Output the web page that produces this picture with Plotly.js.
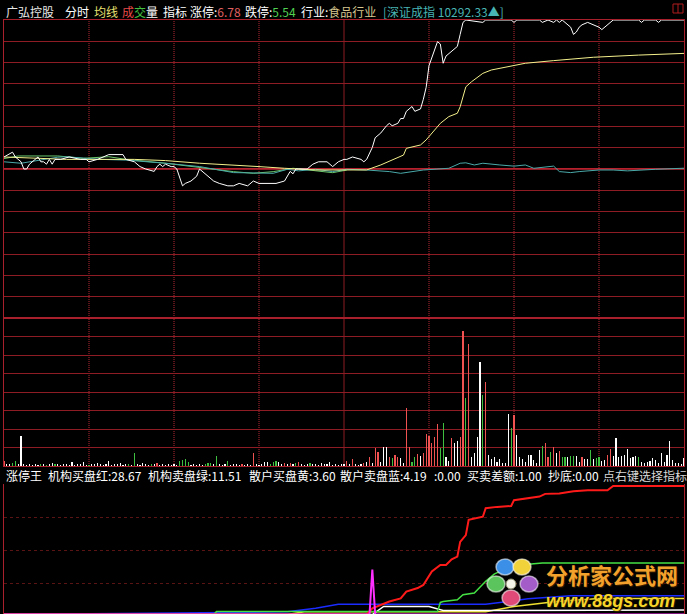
<!DOCTYPE html>
<html>
<head>
<meta charset="utf-8">
<script src="https://cdn.plot.ly/plotly-3.0.1.min.js"></script>
<style>
  html, body { margin: 0; padding: 0; background: #000; }
  #chart { width: 687px; height: 614px; }
</style>
</head>
<body>
<div id="chart"></div>
<script>
// 广弘控股 分时图：minute 0 = 09:30, 120 = 11:30/13:00, 240 = 15:00
const preClose = 6.16;
const limitUp = 6.78;
const limitDown = 5.54;

// 分时价格 (white)
const priceTime = [0,3,4,6,7,8,9,10,12,13,14,15,16,17,18,20,23,27,29,30,33,37,42,43,46,48,50,53,54,55,56,57,59,60,61,63,64,66,68,69,70,72,74,76,79,81,83,86,88,90,93,96,99,101,102,103,104,107,109,111,114,116,118,120,121,123,126,127,128,130,131,133,135,136,137,139,140,141,142,143,144,145,147,148,149,150,152,153,154,155,156,159,160,161,162,163,169,170,179,180,181,189,190,192,194,195,196,197,198,200,201,202,203,204,206,208,210,211,212,213,215,224,225,226,230,231,232,240];
const priceValue = [6.21,6.23,6.21,6.19,6.16,6.16,6.18,6.19,6.21,6.19,6.19,6.18,6.20,6.18,6.20,6.20,6.21,6.20,6.20,6.19,6.20,6.22,6.22,6.20,6.19,6.17,6.16,6.15,6.17,6.18,6.17,6.18,6.17,6.17,6.16,6.09,6.10,6.11,6.13,6.16,6.15,6.13,6.11,6.10,6.09,6.09,6.10,6.09,6.11,6.10,6.10,6.10,6.11,6.15,6.14,6.16,6.16,6.16,6.18,6.19,6.19,6.17,6.19,6.20,6.20,6.21,6.20,6.19,6.20,6.25,6.29,6.31,6.34,6.35,6.34,6.35,6.37,6.37,6.40,6.41,6.42,6.40,6.41,6.45,6.50,6.59,6.66,6.69,6.68,6.60,6.63,6.66,6.67,6.72,6.77,6.78,6.77,6.78,6.78,6.77,6.78,6.78,6.77,6.78,6.77,6.78,6.77,6.78,6.77,6.75,6.72,6.73,6.75,6.76,6.77,6.76,6.75,6.74,6.75,6.76,6.78,6.78,6.77,6.78,6.78,6.77,6.78,6.78];

// 均价 (yellow)
const avgTime = [0,10,22,46,57,69,81,90,99,110,121,128,133,137,141,142,147,149,152,154,157,160,161,163,165,169,172,175,180,184,194,208,224,240];
const avgValue = [6.210,6.205,6.200,6.200,6.195,6.184,6.177,6.170,6.163,6.156,6.156,6.156,6.177,6.197,6.218,6.246,6.260,6.281,6.322,6.350,6.378,6.392,6.419,6.502,6.523,6.558,6.572,6.579,6.593,6.600,6.611,6.625,6.634,6.641];

// 叠加 深证成指 (points)
const indexPreClose = 10287;
const indexTime = [0,6,19,22,34,43,57,69,81,88,95,100,104,110,116,121,128,136,140,148,157,161,163,166,169,175,180,184,187,194,196,200,203,210,215,220,224,230,240];
const indexValue = [10337,10327,10369,10372,10354,10349,10327,10304,10262,10262,10257,10285,10274,10285,10269,10285,10280,10269,10257,10280,10292,10327,10330,10315,10327,10315,10307,10315,10292,10307,10269,10262,10269,10280,10280,10274,10280,10285,10292.33];

// 叠加 食品行业 (% change)
const sectorTime = [0,5,19,28,37,43,57,69,81,88,95,102,110,116,121];
const sectorPct = [0.70,0.88,0.88,0.72,0.83,0.65,0.39,0.11,-0.18,-0.29,-0.18,0.05,-0.10,-0.25,-0.07];

// 成交量 (手), one bar per minute
const volume = [
  270,110,100,160,270,110,1620,110,60,110,      // 0-9
  60,110,60,110,100,60,110,160,110,100,         // 10-19
  60,110,100,60,210,60,110,100,210,60,          // 20-29
  60,110,100,160,110,60,110,260,60,110,         // 30-39
  100,160,60,110,110,60,700,110,60,160,         // 40-49
  110,60,110,100,160,60,110,60,110,60,          // 50-59
  110,60,270,320,380,210,60,110,60,110,         // 60-69
  60,110,160,160,110,540,110,60,110,260,        // 70-79
  60,110,100,60,110,60,110,60,700,110,          // 80-89
  60,110,220,210,110,210,260,210,110,160,       // 90-99
  110,160,110,160,210,110,60,110,160,110,       // 100-109
  100,60,160,110,100,210,60,110,60,110,         // 110-119
  100,260,110,380,110,60,110,160,210,490,       // 120-129
  160,970,760,210,1030,1020,490,430,590,490,    // 130-139
  430,160,3130,1010,230,490,650,540,700,1730,   // 140-149
  1620,1240,1570,2270,970,2320,490,270,1510,1240, // 150-159
  1350,1580,7290,3670,6590,490,700,1570,5620,3830, // 160-169
  4540,590,380,490,220,380,160,170,2810,2050,   // 170-179
  2750,1670,490,370,210,590,600,320,160,860,    // 180-189
  1080,1260,490,770,1010,700,830,490,480,490,   // 190-199
  540,550,540,220,490,380,370,880,380,430,      // 200-209
  490,270,320,590,930,540,1530,490,540,590,     // 210-219
  920,430,490,540,490,230,160,220,270,430,      // 220-229
  320,160,700,210,590,1330,320,160,170,110,     // 230-239
  420                                           // 240
];
// r = 上涨, g = 下跌, w = 平
const volumeSide = (
  "rwwggwwwww" + "wwwgwgwwgw" + "wwwwwwwwww" + "gwwwwwwwww" +
  "wwwwgwgwww" + "wwgwrwwwww" + "wwggggwwww" + "wgggwgwwwg" +
  "wwwwrwwwrw" + "wwwwgggwwr" + "wrwgrwwwgw" + "wwwwwwwwww" +
  "wrwrwwwrwr" + "wrrwwwrgrr" + "wwrrggrwrr" + "rrrrggwwrw" +
  "wrrgrwwwwg" + "rwwwwwwwwg" + "rwwwwwwwww" + "grrgrwrggw" +
  "ggwwrwwgwg" + "gwwrrwwwww" + "wwwwgwwwww" + "wwwwwwwwww" + "w"
).split("");

// 涨停王 指标
const instBuyTime = [0,128,130,133,136,140,142,146,148,151,154,156,158,160,161,163,164,169,170,174,179,180,184,189,191,196,201,206,213,215,240];
const instBuyValue = [0,0,1.4,2.1,2.9,3.6,5.1,5.9,6.6,9.6,11.05,11.05,12.3,12.9,16.2,17.7,21.1,21.8,23.7,24.0,24.2,25.5,25.9,26.3,26.9,27.0,27.5,27.7,27.7,28.67,28.67];
const instSellTime = [0,74,75,153,154,155,160,162,166,168,170,173,178,185,190,240];
const instSellValue = [0,0,0.65,0.65,2.7,2.9,3.3,4.4,4.8,6.2,7.4,9.0,10.5,11.2,11.51,11.51];
const retailBuyTime = [0,100,106,170,180,195,210,240];
const retailBuyValue = [0,0,0.6,0.6,1.8,2.9,3.6,3.6];
const retailSellTime = [0,45,61,100,110,118,170,185,200,240];
const retailSellValue = [0,0.35,0.35,0.6,1.4,2.3,2.3,3.5,4.19,4.19];
const spreadTime = [0,130,134,150,155,240];
const spreadValue = [0,0,1.8,1.8,0.9,1.0];
const bottomTime = [0,129,130,131,240];
const bottomValue = [0,0,10,0,0];

// ---------- drawing ----------
const W = 687, H = 614, ML = 4, MR = 3, MT = 20, MB = 0;
const px = x => (x - ML) / (W - ML - MR);
const py = y => (H - MB - y) / (H - MT - MB);

const GRID = '#8e1c24';
const FRAME = '#a8202c';
const FONT = '"Noto Sans CJK SC", "Noto Sans", sans-serif';

const volColorMap = { r: '#f05252', g: '#3fbf3f', w: '#ffffff' };
const minutes = volume.map((_, i) => i);

const traces = [
  // price panel
  { x: sectorTime, y: sectorPct.map(p => preClose * (1 + p / 100)), type: 'scatter', mode: 'lines',
    line: { color: '#6cc86c', width: 1 }, xaxis: 'x', yaxis: 'y', hoverinfo: 'skip' },
  { x: indexTime, y: indexValue.map(v => preClose * v / indexPreClose), type: 'scatter', mode: 'lines',
    line: { color: '#4aa8a8', width: 1 }, xaxis: 'x', yaxis: 'y', hoverinfo: 'skip' },
  { x: avgTime, y: avgValue, type: 'scatter', mode: 'lines',
    line: { color: '#f4f08c', width: 1 }, xaxis: 'x', yaxis: 'y', hoverinfo: 'skip' },
  { x: priceTime, y: priceValue, type: 'scatter', mode: 'lines',
    line: { color: '#ffffff', width: 1 }, xaxis: 'x', yaxis: 'y', hoverinfo: 'skip' },
  // volume panel
  { x: minutes, y: volume, type: 'bar', width: 0.38,
    marker: { color: volumeSide.map(s => volColorMap[s]), line: { width: 0 } },
    xaxis: 'x2', yaxis: 'y2', hoverinfo: 'skip' },
  // indicator panel
  { x: retailSellTime, y: retailSellValue, type: 'scatter', mode: 'lines',
    line: { color: '#1a2cff', width: 1.5 }, xaxis: 'x3', yaxis: 'y3', hoverinfo: 'skip' },
  { x: retailBuyTime, y: retailBuyValue, type: 'scatter', mode: 'lines',
    line: { color: '#f0e030', width: 1.5 }, xaxis: 'x3', yaxis: 'y3', hoverinfo: 'skip' },
  { x: spreadTime, y: spreadValue, type: 'scatter', mode: 'lines',
    line: { color: '#ffffff', width: 1.5 }, xaxis: 'x3', yaxis: 'y3', hoverinfo: 'skip' },
  { x: instSellTime, y: instSellValue, type: 'scatter', mode: 'lines',
    line: { color: '#44e044', width: 1.5 }, xaxis: 'x3', yaxis: 'y3', hoverinfo: 'skip' },
  { x: instBuyTime, y: instBuyValue, type: 'scatter', mode: 'lines',
    line: { color: '#ff1a1a', width: 2 }, xaxis: 'x3', yaxis: 'y3', hoverinfo: 'skip' },
  { x: bottomTime, y: bottomValue, type: 'scatter', mode: 'lines',
    line: { color: '#ff30ff', width: 2 }, xaxis: 'x3', yaxis: 'y3', hoverinfo: 'skip' }
];

const baseX = {
  range: [0, 240], showgrid: false,
  showticklabels: false, ticks: '', zeroline: false,
  showline: true, linecolor: FRAME, linewidth: 1, mirror: true, fixedrange: true
};

const layout = {
  width: W, height: H,
  margin: { l: ML, r: MR, t: MT, b: MB, pad: 0 },
  paper_bgcolor: '#000', plot_bgcolor: '#000',
  showlegend: false, bargap: 0,
  font: { family: FONT, size: 12, color: '#ffffff' },
  xaxis: Object.assign({}, baseX, { anchor: 'y' }),
  yaxis: {
    domain: [py(318), 1], range: [limitDown, limitUp],
    tickmode: 'linear', tick0: limitDown, dtick: (limitUp - limitDown) / 14,
    showgrid: true, gridcolor: GRID, gridwidth: 1, showticklabels: false, ticks: '',
    zeroline: false, showline: true, linecolor: FRAME, linewidth: 1, mirror: true, fixedrange: true
  },
  xaxis2: Object.assign({}, baseX, { anchor: 'y2', matches: 'x' }),
  yaxis2: {
    domain: [py(466), py(318)], range: [0, 8000],
    tickmode: 'linear', tick0: 0, dtick: 1000,
    showgrid: true, gridcolor: GRID, gridwidth: 1, showticklabels: false, ticks: '',
    zeroline: false, showline: true, linecolor: FRAME, linewidth: 1, mirror: true, fixedrange: true
  },
  xaxis3: {
    anchor: 'y3', range: [0, 240], showgrid: false, showticklabels: false, ticks: '',
    zeroline: false, showline: false, fixedrange: true
  },
  yaxis3: {
    domain: [0, py(484)], range: [0.12, 29.1],
    tickmode: 'array', tickvals: [7.0, 14.3, 21.6],
    showgrid: true, gridcolor: '#5a1414', griddash: 'dot', gridwidth: 1,
    showticklabels: false, ticks: '', zeroline: false,
    showline: true, linecolor: FRAME, linewidth: 1, mirror: true, fixedrange: true
  },
  shapes: [
    // 昨收 line
    { type: 'line', xref: 'x', yref: 'y', x0: 0, x1: 240, y0: preClose, y1: preClose,
      line: { color: '#b8202e', width: 2 }, layer: 'below' },
    // 午间分隔线
    { type: 'line', xref: 'x', yref: 'paper', x0: 120, x1: 120, y0: py(466), y1: 1,
      line: { color: GRID, width: 1 }, layer: 'below' },
    // 价格/成交量 分隔
    { type: 'line', xref: 'paper', yref: 'paper', x0: 0, x1: 1, y0: py(318), y1: py(318),
      line: { color: FRAME, width: 2 } },
    // 窗口切换图标
    { type: 'rect', xref: 'paper', yref: 'paper', x0: px(673), x1: px(683), y0: py(13), y1: py(4),
      line: { color: '#b01c1c', width: 1 } },
    { type: 'line', xref: 'paper', yref: 'paper', x0: px(678), x1: px(678), y0: py(13), y1: py(4),
      line: { color: '#b01c1c', width: 1 } }
  ],
  annotations: []
};

// 半小时 dotted time grid in price and volume panels
[30, 60, 90, 150, 180, 210].forEach(t => {
  layout.shapes.push({
    type: 'line', xref: 'x', yref: 'paper', x0: t, x1: t, y0: py(466), y1: 1,
    line: { color: '#b42834', width: 1, dash: '1px,1px' }, layer: 'below'
  });
});

// header & indicator captions
function label(x, y, text, color, size) {
  layout.annotations.push({
    xref: 'paper', yref: 'paper', x: px(x), y: py(y), xanchor: 'left', yanchor: 'middle',
    text: text, showarrow: false, borderpad: 0,
    font: { family: FONT, size: size || 12, color: color }
  });
}
const headerY = 11;
label(5, headerY, '广弘控股', '#e8e8e8');
label(64, headerY, '分时', '#ffffff');
label(93, headerY, '均线', '#e8e070');
label(121, headerY, '<span style="color:#e84848">成</span><span style="color:#40c040">交</span>量', '#ffffff');
label(162, headerY, '指标', '#ffffff');
label(189, headerY, '涨停:<span style="color:#e06060">' + limitUp.toFixed(2) + '</span>', '#ffffff');
label(244, headerY, '跌停:<span style="color:#50d050">' + limitDown.toFixed(2) + '</span>', '#ffffff');
label(300, headerY, '行业:<span style="color:#d8c890">食品行业</span>', '#ffffff');
label(382, headerY, '[深证成指 ' + indexValue[indexValue.length - 1].toFixed(2) + '▲]', '#48b4b4');

const capY = 475;
const last = a => a[a.length - 1].toFixed(2);
label(5, capY, '涨停王', '#ffffff');
label(47, capY, '机构买盘红:' + last(instBuyValue), '#ffffff');
label(147, capY, '机构卖盘绿:' + last(instSellValue), '#ffffff');
label(248, capY, '散户买盘黄:' + last(retailBuyValue), '#ffffff');
label(339, capY, '散户卖盘蓝:' + last(retailSellValue), '#ffffff');
label(433, capY, ':0.00', '#ffffff');
label(466, capY, '买卖差额:' + last(spreadValue), '#ffffff');
label(547, capY, '抄底:' + last(bottomValue), '#ffffff');
label(602, capY, '点右键选择指标', '#d8d8d8');

// 分析家公式网 logo
const petals = [
  { cx: 505, cy: 567, c: '#3b8fe6' },
  { cx: 522, cy: 567, c: '#f2d23a' },
  { cx: 529, cy: 584, c: '#a35cc8' },
  { cx: 511, cy: 598, c: '#e04a78' },
  { cx: 496, cy: 584, c: '#5cc45c' }
];
petals.forEach(p => {
  layout.shapes.push({
    type: 'circle', xref: 'paper', yref: 'paper',
    x0: px(p.cx - 9), x1: px(p.cx + 9), y0: py(p.cy + 8), y1: py(p.cy - 8),
    fillcolor: p.c, line: { color: 'rgba(255,255,255,0.55)', width: 1.5 }, layer: 'above'
  });
});
layout.shapes.push({
  type: 'circle', xref: 'paper', yref: 'paper',
  x0: px(506), x1: px(516), y0: py(589), y1: py(579),
  fillcolor: '#f4f4e8', line: { color: '#8a8a6a', width: 1 }, layer: 'above'
});
layout.annotations.push({
  xref: 'paper', yref: 'paper', x: px(612), y: py(574), xanchor: 'center', yanchor: 'middle',
  text: '<b>分析家公式网</b>', showarrow: false, borderpad: 0,
  font: { family: FONT, size: 22, color: '#f2a22c', shadow: '1px 1px 1px #3a2000' }
});
layout.annotations.push({
  xref: 'paper', yref: 'paper', x: px(610), y: py(601), xanchor: 'center', yanchor: 'middle',
  text: '<b><i>www.88gs.com</i></b>', showarrow: false, borderpad: 0,
  font: { family: '"Liberation Sans", "DejaVu Sans", sans-serif', size: 18, color: '#f6d42a', shadow: '1px 1px 1px #302000' }
});

Plotly.newPlot('chart', traces, layout, { staticPlot: true, displayModeBar: false });
</script>
</body>
</html>
